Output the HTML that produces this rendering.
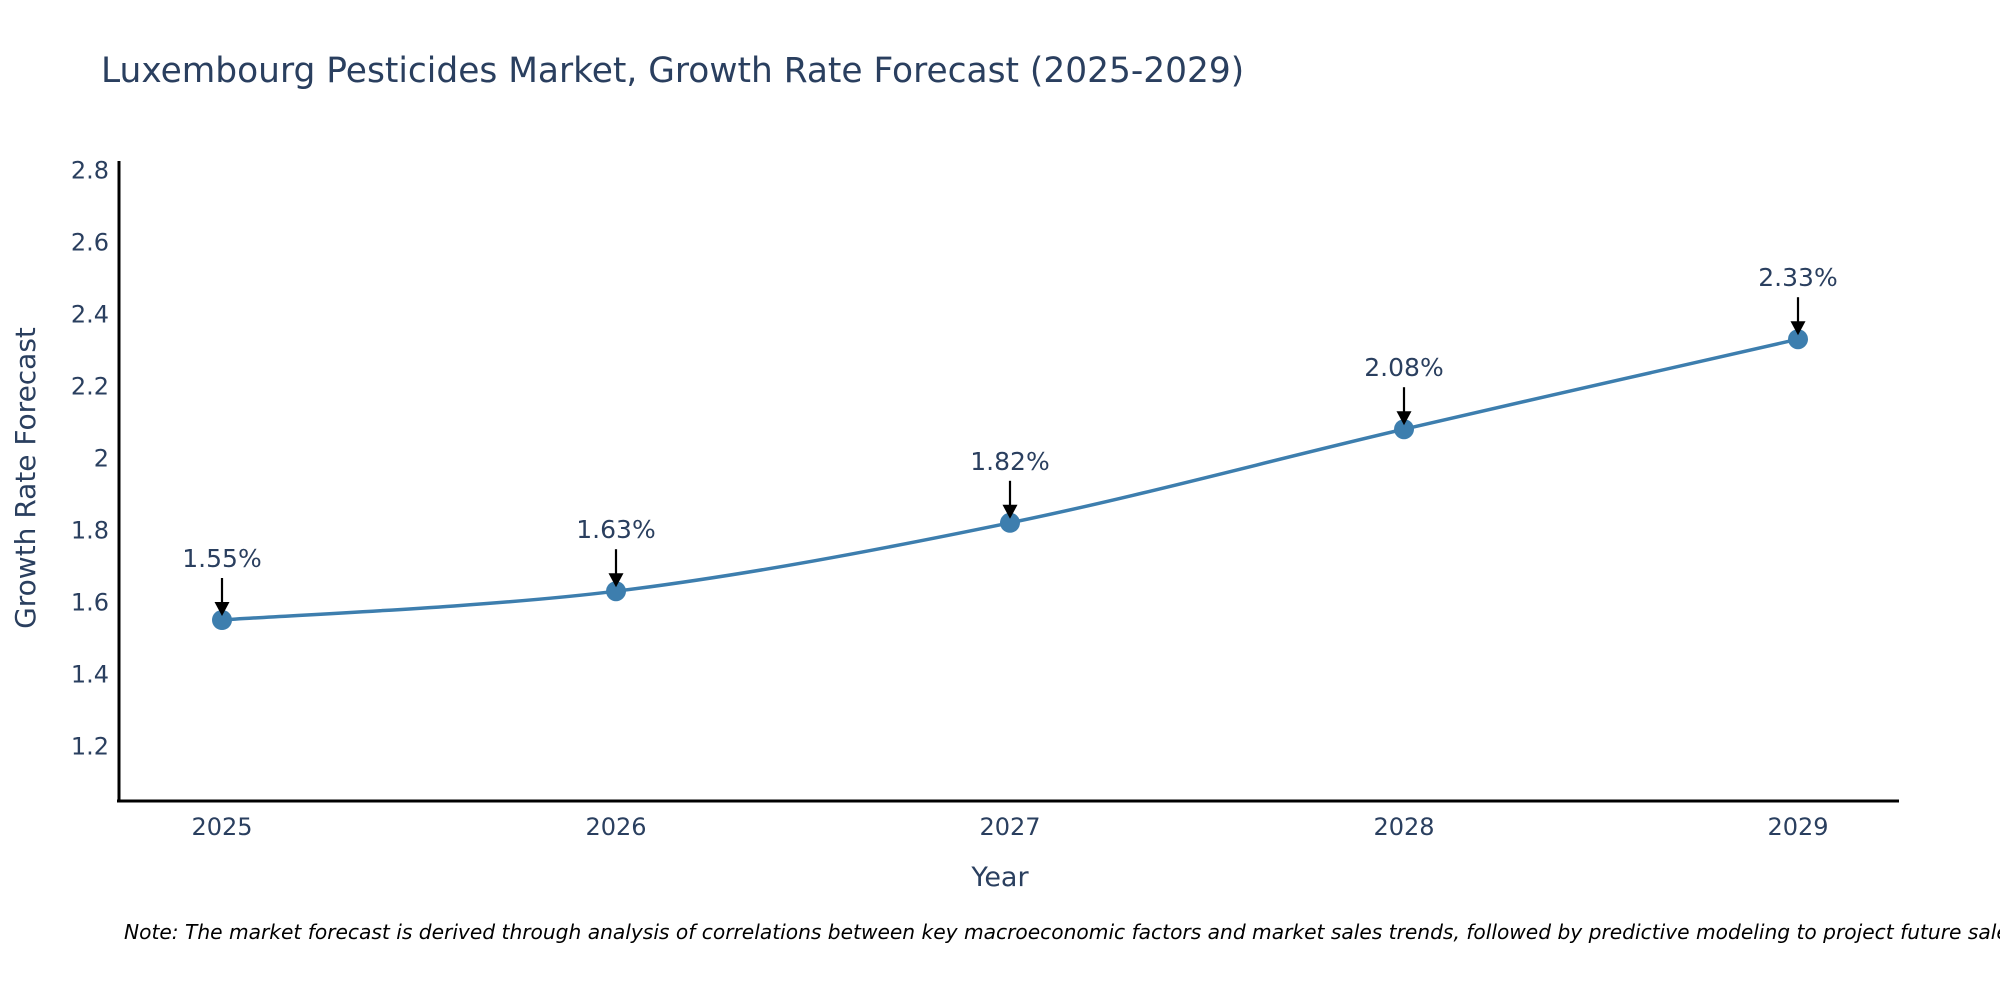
<!DOCTYPE html>
<html><head><meta charset="utf-8"><style>
body{margin:0;background:#fff;}
svg{display:block;font-family:"DejaVu Sans","Liberation Sans",sans-serif;}
</style></head><body>
<svg id="chart" width="2000" height="1000" viewBox="0 0 2000 1000">
<text x="101" y="82" font-size="34.4" fill="#2a3f5f">Luxembourg Pesticides Market, Growth Rate Forecast (2025-2029)</text>
<g id="yticks"></g>
<g id="xticks"></g>
<g id="plot"></g>
<line x1="119" y1="161" x2="119" y2="802" stroke="#000" stroke-width="3"/>
<line x1="117" y1="801" x2="1899" y2="801" stroke="#000" stroke-width="3"/>
<text x="1000" y="886" font-size="27" fill="#2a3f5f" text-anchor="middle">Year</text>
<text transform="translate(35,478) rotate(-90)" font-size="28" fill="#2a3f5f" text-anchor="middle">Growth Rate Forecast</text>
<text x="124" y="939" font-size="20.2" font-style="italic" fill="#000">Note: The market forecast is derived through analysis of correlations between key macroeconomic factors and market sales trends, followed by predictive modeling to project future sales.</text>
</svg>
<script>
const years = [2025, 2026, 2027, 2028, 2029];
const growth = [1.55, 1.63, 1.82, 2.08, 2.33];
const labels = ["1.55%", "1.63%", "1.82%", "2.08%", "2.33%"];
const yTicks = [1.2, 1.4, 1.6, 1.8, 2, 2.2, 2.4, 2.6, 2.8];
const yTickLabels = ["1.2", "1.4", "1.6", "1.8", "2", "2.2", "2.4", "2.6", "2.8"];

const NS = "http://www.w3.org/2000/svg";
function xs(v){ return 222 + (v - 2025) * 394; }
function ys(v){ return 746 - (v - 1.2) * 360; }
function mk(tag, attrs, parent, txt){
  const e = document.createElementNS(NS, tag);
  for (const k in attrs) e.setAttribute(k, attrs[k]);
  if (txt !== undefined) e.textContent = txt;
  parent.appendChild(e); return e;
}
const yg = document.getElementById('yticks');
yTicks.forEach((t,i)=>{
  const e = mk('text',{x:109,y:ys(t)+8.5,'font-size':24,fill:'#2a3f5f','text-anchor':'end'},yg,yTickLabels[i]);
  
  
});
const xg = document.getElementById('xticks');
years.forEach(y=>{
  const e = mk('text',{x:xs(y),y:835,'font-size':24,fill:'#2a3f5f','text-anchor':'middle'},xg,String(y));
  
  
});
const pg = document.getElementById('plot');
const pts = years.map((y,i)=>[xs(y), ys(growth[i])]);
let d = `M${pts[0][0]},${pts[0][1]}`;
const tn = 0.5/3;
for (let i=0;i<pts.length-1;i++){
  const p0 = pts[Math.max(0,i-1)], p1 = pts[i], p2 = pts[i+1], p3 = pts[Math.min(pts.length-1,i+2)];
  const c1 = [p1[0]+(p2[0]-p0[0])*tn, p1[1]+(p2[1]-p0[1])*tn];
  const c2 = [p2[0]-(p3[0]-p1[0])*tn, p2[1]-(p3[1]-p1[1])*tn];
  d += ` C${c1[0]},${c1[1]} ${c2[0]},${c2[1]} ${p2[0]},${p2[1]}`;
}
const line = mk('path',{d:d,fill:'none',stroke:'#3d7eae','stroke-width':3.5},pg);


pts.forEach((p,i)=>{
  const c = mk('circle',{cx:p[0],cy:p[1],r:10,fill:'#3d7eae'},pg);
  
  
  const a = mk('line',{x1:p[0],y1:p[1]-42,x2:p[0],y2:p[1]-14,stroke:'#000','stroke-width':2.2},pg);
  
  
  const h = mk('path',{d:`M${p[0]-7.5},${p[1]-18} L${p[0]+7.5},${p[1]-18} L${p[0]},${p[1]-4} Z`,fill:'#000'},pg);
  
  
  const t = mk('text',{x:p[0],y:p[1]-53,'font-size':25,fill:'#2a3f5f','text-anchor':'middle'},pg,labels[i]);
  
  
});
</script>
</body></html>
